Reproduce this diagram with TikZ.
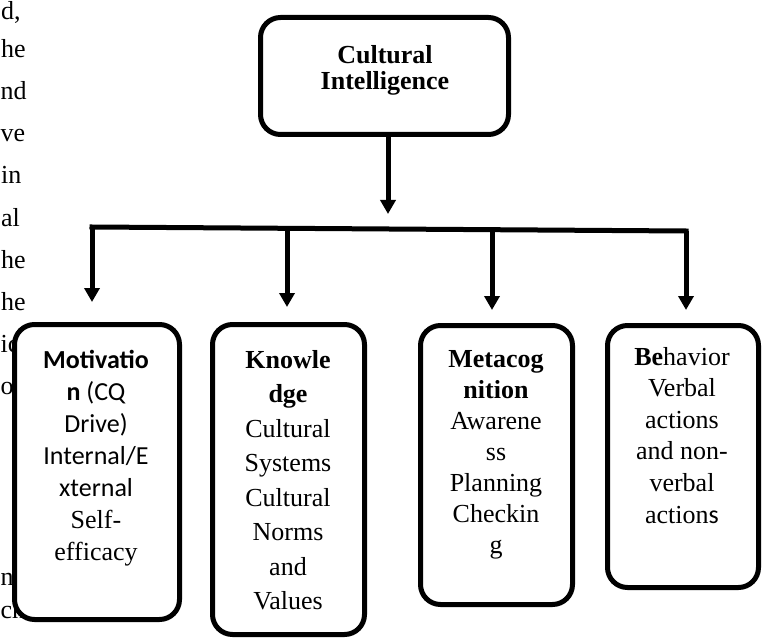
\documentclass[tikz,border=0pt]{standalone}
\usepackage{fontspec}
\setmainfont{Liberation Serif}
\newfontfamily\calib{Carlito}
\usetikzlibrary{arrows.meta}
\begin{document}
\begin{tikzpicture}[x=1pt,y=-1pt,
  cbox/.style={draw, line width=5pt, rounded corners=20pt, fill=white, inner sep=0pt},
  conn/.style={line width=5pt, -{Triangle[width=15pt,length=14pt]}},
  barline/.style={line width=5pt, line cap=rect},
  frag/.style={inner sep=0pt, anchor=base west, font=\fontsize{26}{30}\selectfont},
  lbl/.style={inner sep=0pt, anchor=base, font=\fontsize{26}{#1}\selectfont},
]
\useasboundingbox (0,0) rectangle (763,639);

% cut-off text of the surrounding page
\node[frag] (f1) at (1,20) {d,};
\node[frag] (f2) at (1,58) {he};
\node[frag] (f3) at (0.5,100) {nd};
\node[frag] (f4) at (0.5,142) {ve};
\node[frag] (f5) at (1,184) {in};
\node[frag] (f6) at (1,226) {al};
\node[frag] (f7) at (1,268) {he};
\node[frag] (f8) at (1,310) {he};
\node[frag] (f9) at (0.5,352) {ic};
\node[frag] (f10) at (0.5,394) {o};
\node[frag] (f11) at (0.5,585) {ne};
\node[frag] (f12) at (0.5,618) {ch};

% boxes
\node[cbox, minimum width=248pt, minimum height=117pt] (ci) at (384.5,76) {};
\node[cbox, minimum width=165pt, minimum height=295pt] (mo) at (97,472) {};
\node[cbox, minimum width=152pt, minimum height=310pt] (kn) at (288.5,479.5) {};
\node[cbox, minimum width=152pt, minimum height=279pt] (me) at (496.5,465) {};
\node[cbox, minimum width=151pt, minimum height=262pt] (be) at (683,456.5) {};

% texts
\node[lbl=26] (cit) at (385,64) {\begin{tabular}[t]{@{}c@{}}\textbf{Cultural}\\\textbf{Intelligence}\end{tabular}};
\node[lbl=32] (mot) at (96,368) {\begin{tabular}[t]{@{}c@{}}{\calib\textbf{Motivatio}}\\{\calib\textbf{n} (CQ}\\{\calib Drive)}\\{\calib Internal/E}\\{\calib xternal}\\Self-\\efficacy\end{tabular}};
\node[lbl=34.5] (knt) at (288,368) {\begin{tabular}[t]{@{}c@{}}\textbf{Knowle}\\\textbf{dge}\\Cultural\\Systems\\Cultural\\Norms\\and\\Values\end{tabular}};
\node[lbl=31] (met) at (496,367) {\begin{tabular}[t]{@{}c@{}}\textbf{Metacog}\\\textbf{nition}\\Awarene\\ss\\Planning\\Checkin\\g\end{tabular}};
\node[lbl=31.6] (bet) at (682,365) {\begin{tabular}[t]{@{}c@{}}\textbf{Be}havior\\Verbal\\actions\\and non-\\verbal\\action{\calib s}\end{tabular}};

% connectors
\coordinate (st) at (388,214);
\coordinate (bl) at (92,227);
\coordinate (br) at (686,231);
\coordinate (j2) at (287,229);
\coordinate (j3) at (492,230);
\coordinate (t1) at (92,302);
\coordinate (t2) at (287,307);
\coordinate (t3) at (492,310);
\coordinate (t4) at (686,310);
\draw[conn] (ci.south -| st) -- (st);
\draw[barline] (bl) -- (br);
\draw[conn] (bl) -- (t1);
\draw[conn] (j2) -- (t2);
\draw[conn] (j3) -- (t3);
\draw[conn] (br) -- (t4);
\end{tikzpicture}
\end{document}
